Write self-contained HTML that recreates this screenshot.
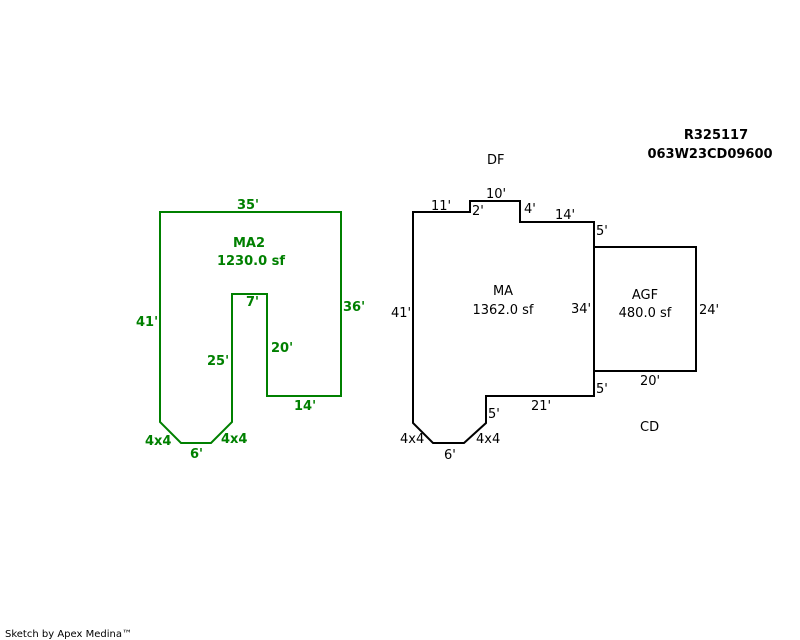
<!DOCTYPE html>
<html><head><meta charset="utf-8"><style>
html,body{margin:0;padding:0;background:#fff;}
svg{display:block;}
text{font-family:"DejaVu Sans","Liberation Sans",sans-serif;font-size:13px;}
.g{fill:#008000;font-weight:bold;}
.k{fill:#000;}
</style></head><body>
<svg width="800" height="640" viewBox="0 0 800 640" xmlns="http://www.w3.org/2000/svg">
<polygon points="160,212 341,212 341,396 267,396 267,294 232,294 232,422 211,443 181,443 160,422" fill="none" stroke="#008000" stroke-width="2"/>
<polygon points="413,212 470,212 470,201 520,201 520,222 594,222 594,396 486,396 486,423 464,443 433,443 413,423" fill="none" stroke="#000" stroke-width="2"/>
<rect x="594" y="247" width="102" height="124" fill="none" stroke="#000" stroke-width="2"/>
<g class="g">
<text x="248" y="209" text-anchor="middle">35'</text>
<text x="249" y="247" text-anchor="middle">MA2</text>
<text x="251" y="265" text-anchor="middle">1230.0 sf</text>
<text x="136" y="326">41'</text>
<text x="343" y="311">36'</text>
<text x="246" y="306">7'</text>
<text x="271" y="352">20'</text>
<text x="207" y="365">25'</text>
<text x="294" y="410">14'</text>
<text x="145" y="445">4x4</text>
<text x="221" y="443">4x4</text>
<text x="190" y="458">6'</text>
</g>
<g class="k">
<text x="716" y="139" text-anchor="middle" style="font-weight:bold">R325117</text>
<text x="710" y="158" text-anchor="middle" style="font-weight:bold">063W23CD09600</text>
<text x="487" y="164">DF</text>
<text x="431" y="210">11'</text>
<text x="486" y="198">10'</text>
<text x="472" y="215">2'</text>
<text x="524" y="213">4'</text>
<text x="555" y="219">14'</text>
<text x="596" y="235">5'</text>
<text x="503" y="295" text-anchor="middle">MA</text>
<text x="503" y="314" text-anchor="middle">1362.0 sf</text>
<text x="391" y="317">41'</text>
<text x="571" y="313">34'</text>
<text x="645" y="299" text-anchor="middle">AGF</text>
<text x="645" y="317" text-anchor="middle">480.0 sf</text>
<text x="699" y="314">24'</text>
<text x="640" y="385">20'</text>
<text x="596" y="393">5'</text>
<text x="531" y="410">21'</text>
<text x="488" y="418">5'</text>
<text x="640" y="431">CD</text>
<text x="400" y="443">4x4</text>
<text x="476" y="443">4x4</text>
<text x="444" y="459">6'</text>
<text x="5" y="637" style="font-size:10px">Sketch by Apex Medina™</text>
</g>
</svg>
</body></html>
